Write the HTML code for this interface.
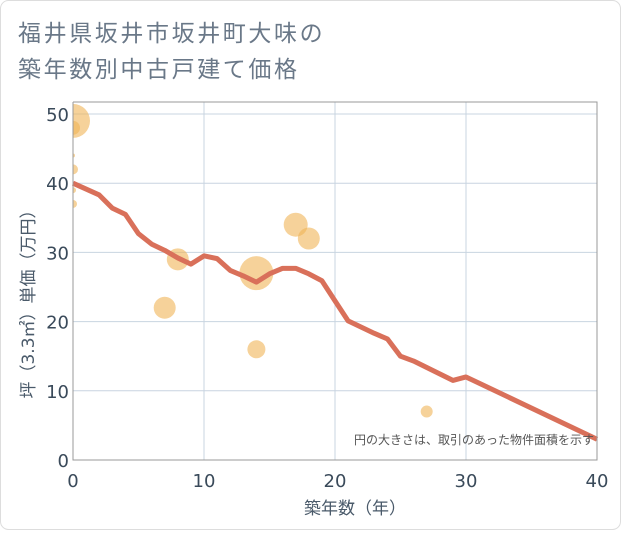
<!DOCTYPE html>
<html><head><meta charset="utf-8"><style>
body{margin:0;background:#fff;}
svg text{font-family:"DejaVu Sans","Noto Sans CJK JP",sans-serif;}
</style></head><body>
<svg width="621" height="530">
<defs><clipPath id="plotclip"><rect x="73" y="102" width="524" height="358"/></clipPath></defs>
<rect x="0.5" y="0.5" width="620" height="529" rx="8" fill="#fff" stroke="#ddd"/>
<text x="18" y="41" font-size="23" letter-spacing="2.6" fill="#6a7888">福井県坂井市坂井町大味の</text>
<text x="18" y="77" font-size="23" letter-spacing="2.6" fill="#6a7888">築年数別中古戸建て価格</text>
<g id="grid"></g>
<g id="bubbles" clip-path="url(#plotclip)"></g>
<g id="line"></g>
<g id="axes"></g>
<text x="594" y="444" font-size="12" fill="#555" text-anchor="end">円の大きさは、取引のあった物件面積を示す</text>
<text x="355" y="514" font-size="17" fill="#4a5a6a" text-anchor="middle">築年数（年）</text>
<text transform="translate(34,300) rotate(-90)" font-size="17" fill="#4a5a6a" text-anchor="middle">坪（3.3㎡）単価（万円）</text>
</svg>
<script>
const xTicks=[0,10,20,30,40];
const yTicks=[0,10,20,30,40,50];
const lineYears=[0,2,3,4,5,6,7,8,9,10,11,12,13,14,15,16,17,18,19,20,21,22,23,24,25,26,29,30,40];
const linePrices=[40,38.3,36.4,35.5,32.7,31.2,30.3,29.2,28.3,29.5,29.1,27.4,26.6,25.7,26.9,27.7,27.7,26.9,25.9,23,20.1,19.2,18.3,17.5,15,14.3,11.5,12,3];
const bubbleYears=[0,0,0,0,0,0,7,8,14,14,17,18,27];
const bubblePrices=[49,48,44,42,39,37,22,29,27,16,34,32,7];
const bubbleSizes=[17,7,2,5,3,4,11,11,17,9,12,11,6];
const X0=73,X1=597,Y0=460,Y1=114;
const sx=v=>X0+(v-0)/40*(X1-X0);
const sy=v=>Y0-(v-0)/50*(Y0-Y1);
const NS="http://www.w3.org/2000/svg";
function mk(t,a,p){const e=document.createElementNS(NS,t);for(const k in a)e.setAttribute(k,a[k]);document.getElementById(p).appendChild(e);return e;}
yTicks.forEach(v=>{
const l=mk('line',{x1:X0,x2:X1,y1:sy(v),y2:sy(v),stroke:'#c8d4e0','stroke-width':1},'grid');


const t=mk('text',{x:X0-4,y:sy(v)+7,'font-size':18,fill:'#3a4a5a','text-anchor':'end'},'axes');t.textContent=v;


});
xTicks.forEach(v=>{
const l=mk('line',{x1:sx(v),x2:sx(v),y1:Y1-12,y2:Y0,stroke:'#c8d4e0','stroke-width':1},'grid');


const t=mk('text',{x:sx(v),y:Y0+27,'font-size':18,fill:'#3a4a5a','text-anchor':'middle'},'axes');t.textContent=v;


});
const ax=mk('path',{d:`M${X0},${Y1-12}V${Y0}H${X1}V${Y1-12}H${X0}`,fill:'none',stroke:'#999','stroke-width':1},'axes');


bubbleYears.forEach((y,i)=>{
const c=mk('circle',{cx:sx(y),cy:sy(bubblePrices[i]),r:bubbleSizes[i],fill:'#f0b456','fill-opacity':0.6},'bubbles');


});
const p=mk('polyline',{points:lineYears.map((y,i)=>sx(y)+','+sy(linePrices[i])).join(' '),fill:'none',stroke:'#d9705a','stroke-width':5,'stroke-linejoin':'round'},'line');


</script>
</body></html>
